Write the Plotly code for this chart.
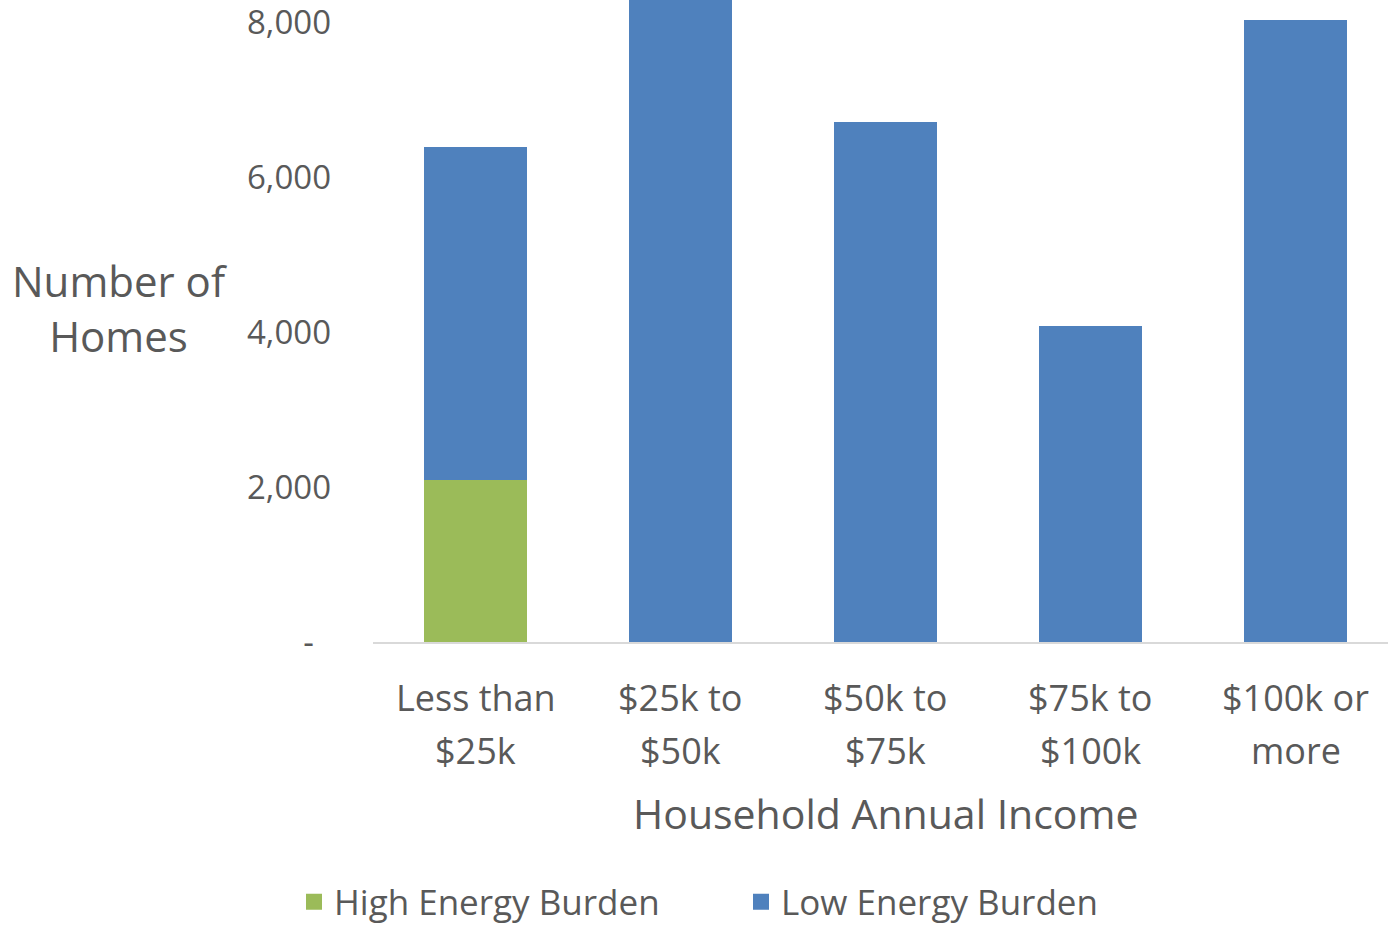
import plotly.graph_objects as go

categories = ["Less than $25k", "$25k to $50k", "$50k to $75k", "$75k to $100k", "$100k or more"]
label_lines = [("Less than", "$25k"), ("$25k to", "$50k"), ("$50k to", "$75k"),
               ("$75k to", "$100k"), ("$100k or", "more")]
high_burden = [2090, 0, 0, 0, 0]
low_burden = [4300, 8600, 6710, 4075, 8030]
y_tickvals = [0, 2000, 4000, 6000, 8000]
y_ticktext = ["-\u00a0\u00a0", "2,000", "4,000", "6,000", "8,000"]

FONT = "Open Sans"
GRAY = "#595959"
GREEN = "#9BBB59"
BLUE = "#4F81BD"

fig = go.Figure()
fig.add_trace(go.Bar(x=categories, y=high_burden, name="High Energy Burden",
                     marker=dict(color=GREEN, line=dict(width=0)), showlegend=False))
fig.add_trace(go.Bar(x=categories, y=low_burden, name="Low Energy Burden",
                     marker=dict(color=BLUE, line=dict(width=0)), showlegend=False))
# legend entries with larger square swatches
fig.add_trace(go.Scatter(x=[None], y=[None], mode="markers", name="High Energy Burden",
                         marker=dict(symbol="square", size=22, color=GREEN)))
fig.add_trace(go.Scatter(x=[None], y=[None], mode="markers", name="Low Energy Burden",
                         marker=dict(symbol="square", size=22, color=BLUE)))

annotations = []
for cat, (l1, l2) in zip(categories, label_lines):
    annotations.append(dict(x=cat, xref="x", y=0, yref="paper", yanchor="middle",
                            yshift=-55, text=l1, showarrow=False,
                            font=dict(family=FONT, size=36, color=GRAY)))
    annotations.append(dict(x=cat, xref="x", y=0, yref="paper", yanchor="middle",
                            yshift=-108, text=l2, showarrow=False,
                            font=dict(family=FONT, size=36, color=GRAY)))
annotations.append(dict(x=0.505, xref="paper", y=0, yref="paper", yanchor="middle",
                        yshift=-171, text="Household Annual Income", showarrow=False,
                        font=dict(family=FONT, size=41, color=GRAY)))
annotations.append(dict(x=-0.249, xref="paper", y=0.52, yref="paper",
                        xanchor="center", yanchor="middle",
                        text="Number of<br>Homes", showarrow=False, align="center",
                        font=dict(family=FONT, size=42, color=GRAY)))

fig.update_layout(
    barmode="stack",
    bargap=0.5,
    width=1388, height=928,
    margin=dict(l=373, r=0, t=0, b=286, autoexpand=False),
    plot_bgcolor="white", paper_bgcolor="white",
    font=dict(family=FONT, color=GRAY),
    showlegend=True,
    legend=dict(orientation="h", x=294 / 1388, xanchor="left", xref="container",
                y=1 - 902 / 928, yanchor="middle", yref="container",
                font=dict(family=FONT, size=35, color=GRAY),
                traceorder="normal", itemwidth=30, entrywidth=402, entrywidthmode="pixels"),
    annotations=annotations,
)
fig.update_xaxes(showticklabels=False, showline=True, linecolor="#D9D9D9", linewidth=2,
                 ticks="", showgrid=False, zeroline=False, range=[-0.5, 4.451])
fig.update_yaxes(range=[0, 8284], tickvals=y_tickvals, ticktext=y_ticktext,
                 showgrid=False, zeroline=False, showline=False, ticks="",
                 ticklabelstandoff=41, ticklabeloverflow="allow",
                 tickfont=dict(family=FONT, size=33, color=GRAY))

fig.write_html("out.html")
